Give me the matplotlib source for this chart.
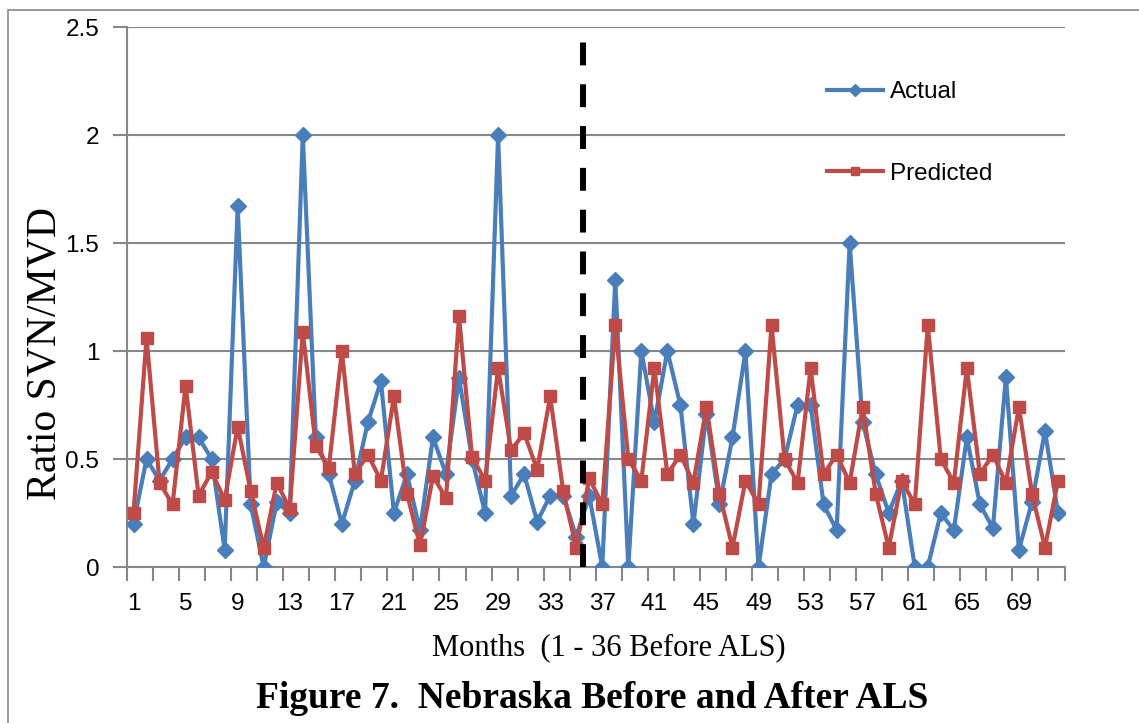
import numpy as np
import matplotlib.pyplot as plt
from matplotlib.patches import Rectangle

# valeurs (ratio SVN/MVD par mois)
months = np.arange(1, 73)
actual = [0.2, 0.5, 0.4, 0.5, 0.6, 0.6, 0.5, 0.08, 1.67, 0.29,
          0.0, 0.3, 0.25, 2.0, 0.6, 0.43, 0.2, 0.4, 0.67, 0.86,
          0.25, 0.43, 0.17, 0.6, 0.43, 0.875, 0.5, 0.25, 2.0, 0.33,
          0.43, 0.21, 0.33, 0.33, 0.14, 0.33, 0.0, 1.33, 0.0, 1.0,
          0.67, 1.0, 0.75, 0.2, 0.71, 0.29, 0.6, 1.0, 0.0, 0.43,
          0.5, 0.75, 0.75, 0.29, 0.17, 1.5, 0.67, 0.43, 0.25, 0.4,
          0.0, 0.0, 0.25, 0.17, 0.6, 0.29, 0.18, 0.88, 0.08, 0.3,
          0.63, 0.25]
predicted = [0.25, 1.06, 0.39, 0.29, 0.84, 0.33, 0.44, 0.31, 0.65, 0.35,
             0.09, 0.39, 0.27, 1.09, 0.56, 0.46, 1.0, 0.43, 0.52, 0.4,
             0.79, 0.34, 0.1, 0.42, 0.32, 1.16, 0.51, 0.4, 0.92, 0.54,
             0.62, 0.45, 0.79, 0.35, 0.09, 0.41, 0.29, 1.12, 0.5, 0.4,
             0.92, 0.43, 0.52, 0.39, 0.74, 0.34, 0.09, 0.4, 0.29, 1.12,
             0.5, 0.39, 0.92, 0.43, 0.52, 0.39, 0.74, 0.34, 0.09, 0.4,
             0.29, 1.12, 0.5, 0.39, 0.92, 0.43, 0.52, 0.39, 0.74, 0.34,
             0.09, 0.4]
xtick_labels = np.arange(1, 73, 4)
yticks = [0, 0.5, 1, 1.5, 2, 2.5]
als_start = 35.5

W, H = 1139, 723
fig = plt.figure(figsize=(W / 100, H / 100), dpi=100)
ax = fig.add_axes([127 / W, 1 - 567 / H, (1064.5 - 127) / W, 540 / H])

grey = '#878787'
sans = ['Liberation Sans Narrow', 'Liberation Sans', 'DejaVu Sans']
serif = ['Liberation Serif', 'DejaVu Serif']

ax.plot(months, actual, color='#4A7EBB', lw=3.0, marker='D', ms=8.5,
        label='Actual', zorder=3)
ax.plot(months, predicted, color='#BE4B48', lw=3.0, marker='s', ms=9,
        label='Predicted', zorder=4)

# ligne de separation avant / apres ALS
ax.axvline(als_start, ymin=0, ymax=(567 - 41) / 540, color='black',
           lw=4.3, dashes=(3.83, 3.17), zorder=6)

ax.set_xlim(0.5, 72.5)
ax.set_ylim(0, 2.5)
ax.set_yticks(yticks)
ax.set_yticklabels(['0', '0.5', '1', '1.5', '2', '2.5'])
ax.set_xticks(xtick_labels)
ax.set_xticks(np.arange(0.5, 73, 2), minor=True)
ax.tick_params(axis='x', which='major', length=0, pad=19)
ax.tick_params(axis='x', which='minor', length=10, width=1.5, color=grey)
ax.tick_params(axis='y', length=10, width=1.5, color=grey, pad=10)
for lab in ax.get_xticklabels() + ax.get_yticklabels():
    lab.set_family(sans)
    lab.set_fontsize(17.5)

ax.grid(axis='y', color=grey, lw=1.5, zorder=0)
for s in ['top', 'right']:
    ax.spines[s].set_visible(False)
for s in ['left', 'bottom']:
    ax.spines[s].set_color(grey)
    ax.spines[s].set_linewidth(1.5)

leg = ax.legend(loc='center left', bbox_to_anchor=(827 / W, 1 - 133 / H),
                bbox_transform=fig.transFigure, frameon=False,
                prop={'family': sans, 'size': 17.5}, handlelength=2.3,
                handletextpad=0.3, labelspacing=2.45, borderpad=0,
                borderaxespad=0, markerscale=0.7)

fig.text(45 / W, 1 - 353 / H, 'Ratio SVN/MVD', rotation=90, ha='center',
         va='center', family=serif, fontsize=30)
fig.text(609 / W, 1 - 648 / H, 'Months  (1 - 36 Before ALS)', ha='center',
         va='center', family=serif, fontsize=22)
fig.text(592 / W, 1 - 699 / H, 'Figure 7.  Nebraska Before and After ALS',
         ha='center', va='center', family=serif, fontsize=27,
         fontweight='bold')

# cadre exterieur
fig.patches.append(Rectangle((8 / W, -0.2), 1.2, 1.2 - 10 / H,
                             transform=fig.transFigure, fill=False,
                             edgecolor=grey, lw=1.2))

fig.savefig('out.png', dpi=100)
